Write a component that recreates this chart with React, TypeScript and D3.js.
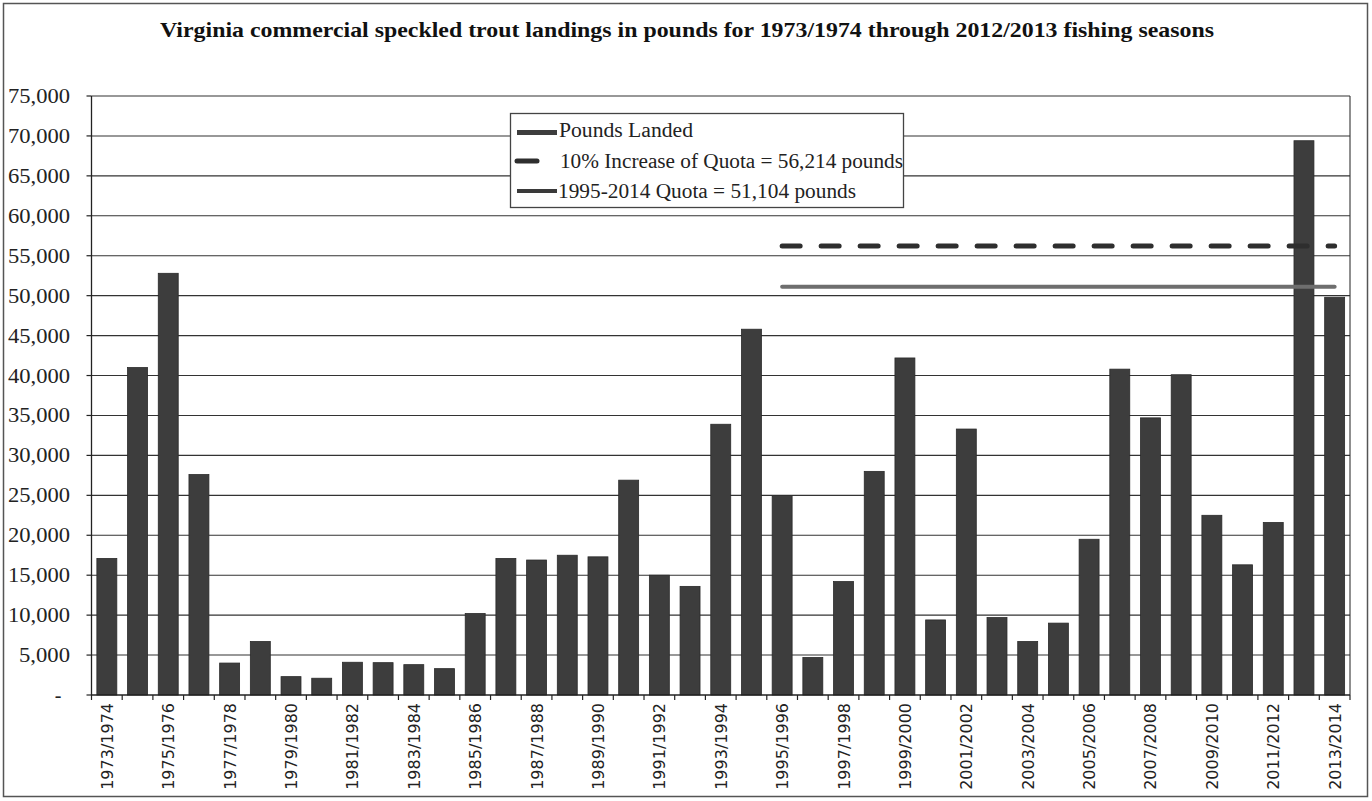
import React from "react";
import * as d3 from "d3";

const seasons: string[] = [
  "1973/1974", "1974/1975", "1975/1976", "1976/1977", "1977/1978", "1978/1979",
  "1979/1980", "1980/1981", "1981/1982", "1982/1983", "1983/1984", "1984/1985",
  "1985/1986", "1986/1987", "1987/1988", "1988/1989", "1989/1990", "1990/1991",
  "1991/1992", "1992/1993", "1993/1994", "1994/1995", "1995/1996", "1996/1997",
  "1997/1998", "1998/1999", "1999/2000", "2000/2001", "2001/2002", "2002/2003",
  "2003/2004", "2004/2005", "2005/2006", "2006/2007", "2007/2008", "2008/2009",
  "2009/2010", "2010/2011", "2011/2012", "2012/2013", "2013/2014",
];

const poundsLanded: number[] = [
  17100, 41000, 52800, 27600, 4000, 6700,
  2300, 2100, 4100, 4050, 3800, 3300,
  10200, 17100, 16900, 17500, 17300, 26900,
  15000, 13600, 33900, 45800, 24900, 4700,
  14200, 28000, 42200, 9400, 33300, 9700,
  6700, 9000, 19500, 40800, 34700, 40100,
  22500, 16300, 21600, 69400, 49800,
];

const quotaSeasons: string[] = seasons.slice(22); // 1995/1996 .. 2013/2014
const increasedQuota = 56214;
const quota = 51104;

const yTicks: number[] = [0, 5000, 10000, 15000, 20000, 25000, 30000, 35000, 40000, 45000, 50000, 55000, 60000, 65000, 70000, 75000];
const xLabelSeasons: string[] = seasons.filter((_, i) => i % 2 === 0);

const legendLabels: string[] = [
  "Pounds Landed",
  "10% Increase of Quota = 56,214 pounds",
  "1995-2014 Quota = 51,104 pounds",
];

const title =
  "Virginia commercial speckled trout landings in pounds for 1973/1974 through 2012/2013 fishing seasons";

export default function App() {
  const W = 1372;
  const H = 801;
  const left = 91.5;
  const right = 1350;
  const top = 96;
  const bottom = 695;

  const x = d3
    .scaleBand<string>()
    .domain(seasons)
    .range([left, right])
    .paddingInner(0.35)
    .paddingOuter(0.175);
  const y = d3.scaleLinear().domain([0, 75000]).range([bottom, top]);
  const fmt = d3.format(",");
  const cx = (s: string) => (x(s) ?? 0) + x.bandwidth() / 2;

  const line = d3
    .line<string>()
    .x((s) => cx(s))
    .y(() => 0);

  const step = x.step();
  const boundaries = d3.range(seasons.length + 1).map((i) => left + i * step);

  const serif = "Liberation Serif, Times New Roman, DejaVu Serif, serif";
  const sans = "DejaVu Sans, Verdana, sans-serif";

  return (
    <svg
      width={W}
      height={H}
      viewBox={`0 0 ${W} ${H}`}
      style={{ position: "absolute", left: 0, top: 0, background: "#fff" }}
    >
      <rect x={0} y={0} width={W} height={H} fill="#fff" />
      {/* outer frame */}
      <rect x={3.5} y={3.5} width={1364} height={793} fill="none" stroke="#555" strokeWidth={1.5} />

      {/* title */}
      <text
        x={160}
        y={37}
        style={{ fontFamily: serif }}
        fontWeight="bold"
        fontSize={21}
        fill="#111"
        textLength={1054}
        lengthAdjust="spacingAndGlyphs"
      >
        {title}
      </text>

      {/* gridlines */}
      {yTicks.filter((t) => t > 0).map((t) => (
        <line key={`g${t}`} x1={left} x2={right} y1={y(t)} y2={y(t)} stroke="#333" strokeWidth={1.1} />
      ))}
      {/* plot right border */}
      <line x1={right} x2={right} y1={top} y2={bottom} stroke="#333" strokeWidth={1.1} />

      {/* bars */}
      {seasons.map((s, i) => (
        <rect
          key={s}
          x={x(s)}
          y={y(poundsLanded[i])}
          width={x.bandwidth()}
          height={bottom - y(poundsLanded[i])}
          fill="#3d3d3d"
          stroke="#2a2a2a"
          strokeWidth={0.8}
        />
      ))}

      {/* quota lines */}
      <path
        d={line(quotaSeasons) ?? ""}
        transform={`translate(0, ${y(quota)})`}
        fill="none"
        stroke="#6e6e6e"
        strokeWidth={4}
        strokeLinecap="round"
      />
      <path
        d={line(quotaSeasons) ?? ""}
        transform={`translate(0, ${y(increasedQuota)})`}
        fill="none"
        stroke="#2e2e2e"
        strokeWidth={5}
        strokeDasharray="18 21"
        strokeLinecap="round"
      />

      {/* y axis */}
      <line x1={left} x2={left} y1={top} y2={bottom} stroke="#222" strokeWidth={1.3} />
      {yTicks.map((t) => (
        <g key={`yt${t}`}>
          <line x1={left - 5} x2={left} y1={y(t)} y2={y(t)} stroke="#222" strokeWidth={1.2} />
          {t === 0 ? (
            <text x={58} y={y(t) + 7} textAnchor="middle" style={{ fontFamily: serif }} fontSize={20} fill="#222">
              -
            </text>
          ) : (
            <text
              x={t >= 10000 ? 8 : 19}
              y={y(t) + 7}
              style={{ fontFamily: serif }}
              fontSize={21}
              fill="#222"
              textLength={t >= 10000 ? 62 : 51}
              lengthAdjust="spacingAndGlyphs"
            >
              {fmt(t)}
            </text>
          )}
        </g>
      ))}

      {/* x axis */}
      <line x1={left} x2={right} y1={bottom} y2={bottom} stroke="#222" strokeWidth={1.3} />
      {boundaries.map((b, i) => (
        <line key={`xt${i}`} x1={b} x2={b} y1={bottom} y2={bottom + 5} stroke="#222" strokeWidth={1.2} />
      ))}
      {xLabelSeasons.map((s) => (
        <text
          key={`xl${s}`}
          transform={`translate(${cx(s) + 6}, ${bottom + 8}) rotate(-90)`}
          textAnchor="end"
          style={{ fontFamily: sans }}
          fontSize={16}
          fill="#222"
        >
          {s}
        </text>
      ))}

      {/* legend */}
      <rect x={510.5} y={113.5} width={393} height={94} fill="#fff" stroke="#444" strokeWidth={1.3} />
      <rect x={517} y={130} width={40} height={5} fill="#3d3d3d" />
      <line x1={517} x2={537} y1={161} y2={161} stroke="#2e2e2e" strokeWidth={5} strokeLinecap="round" />
      <line x1={517} x2={557} y1={191} y2={191} stroke="#3a3a3a" strokeWidth={4} />
      <text x={559} y={137} style={{ fontFamily: serif }} fontSize={20} fill="#222" textLength={134} lengthAdjust="spacingAndGlyphs">{legendLabels[0]}</text>
      <text x={560} y={168} style={{ fontFamily: serif }} fontSize={20} fill="#222" textLength={343} lengthAdjust="spacingAndGlyphs">{legendLabels[1]}</text>
      <text x={558} y={198} style={{ fontFamily: serif }} fontSize={20} fill="#222" textLength={298} lengthAdjust="spacingAndGlyphs">{legendLabels[2]}</text>
    </svg>
  );
}
